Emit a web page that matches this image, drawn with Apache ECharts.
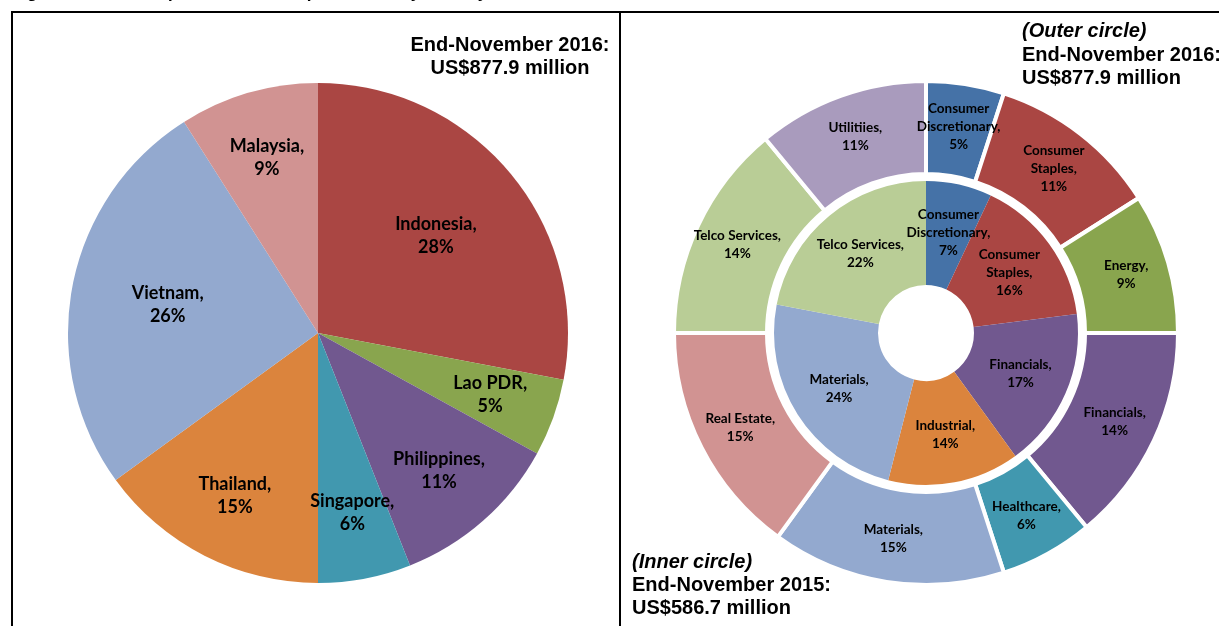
<!DOCTYPE html>
<html>
<head>
<meta charset="utf-8">
<script src="https://cdn.jsdelivr.net/npm/echarts@6/dist/echarts.min.js"></script>
<style>
  html, body { margin: 0; padding: 0; background: #fff; }
  #chart { width: 1219px; height: 626px; }
</style>
</head>
<body>
<div id="chart"></div>
<script>
// country split, end-November 2016 (clockwise from 12 o'clock)
var countries = ['Indonesia', 'Lao PDR', 'Philippines', 'Singapore', 'Thailand', 'Vietnam', 'Malaysia'];
var countryShare = [28, 5, 11, 6, 15, 26, 9];
var countryColors = ['#AA4643', '#89A54E', '#71588F', '#4198AF', '#DB843D', '#93A9CF', '#D19392'];
// big slices get their label nearer the centre
var countryLabelNear = [true, false, false, false, false, true, false];

// sector split, outer ring = end-November 2016
var outerSectors = ['Consumer\nDiscretionary', 'Consumer\nStaples', 'Energy', 'Financials', 'Healthcare',
  'Materials', 'Real Estate', 'Telco Services', 'Utilitiies'];
var outerShare = [5, 11, 9, 14, 6, 15, 15, 14, 11];
var outerColors = ['#4572A7', '#AA4643', '#89A54E', '#71588F', '#4198AF', '#93A9CF', '#D19392', '#B9CD96', '#A99BBD'];

// inner ring = end-November 2015
var innerSectors = ['Consumer\nDiscretionary', 'Consumer\nStaples', 'Financials', 'Industrial', 'Materials', 'Telco Services'];
var innerShare = [7, 16, 17, 14, 24, 22];
var innerColors = ['#4572A7', '#AA4643', '#71588F', '#DB843D', '#93A9CF', '#B9CD96'];

var chart = echarts.init(document.getElementById('chart'), null, { renderer: 'canvas' });

function toData(names, vals, colors) {
  return names.map(function (n, i) {
    return { name: n, value: vals[i], itemStyle: { color: colors[i] } };
  });
}

var pieLabel = {
  show: true, position: 'inside', color: '#000', fontFamily: 'Lato, Arial, sans-serif',
  fontWeight: 'bold', fontSize: 18, lineHeight: 23, formatter: '{b},\n{c}%'
};
var ringLabel = {
  show: true, position: 'inside', color: '#000', fontFamily: 'Lato, Arial, sans-serif',
  fontWeight: 'bold', fontSize: 13.5, lineHeight: 18, formatter: '{b},\n{c}%'
};

// label-only overlays for the country pie
function labelOverlay(near) {
  return {
    type: 'pie', center: [318, 333], radius: near ? [50, 250] : [110, 250],
    startAngle: 90, silent: true, z: 5, avoidLabelOverlap: false,
    itemStyle: { color: 'rgba(0,0,0,0)' },
    labelLine: { show: false },
    labelLayout: { hideOverlap: false },
    data: countries.map(function (n, i) {
      return { name: n, value: countryShare[i], label: { show: countryLabelNear[i] === near } };
    }),
    label: pieLabel
  };
}

var boldText = { fontFamily: 'Arial, Liberation Sans, sans-serif', fontWeight: 'bold', fontSize: 20, fill: '#000' };

chart.setOption({
  animation: false,
  series: [
    {
      type: 'pie', center: [318, 333], radius: 250, startAngle: 90,
      label: { show: false }, labelLine: { show: false },
      data: toData(countries, countryShare, countryColors)
    },
    labelOverlay(true),
    labelOverlay(false),
    {
      type: 'pie', center: [926, 333], radius: [48, 152], startAngle: 90,
      avoidLabelOverlap: false, labelLayout: { hideOverlap: false },
      label: ringLabel, labelLine: { show: false },
      data: toData(innerSectors, innerShare, innerColors)
    },
    {
      type: 'pie', center: [926, 333], radius: [159, 252], startAngle: 90,
      avoidLabelOverlap: false, labelLayout: { hideOverlap: false },
      itemStyle: { borderColor: '#fff', borderWidth: 4 },
      label: ringLabel, labelLine: { show: false },
      data: toData(outerSectors, outerShare, outerColors)
    }
  ],
  graphic: [
    { type: 'text', left: 12, top: -15, style: Object.assign({}, boldText, { fontSize: 17,
      text: 'Figure 3: ASEAN equities: market capitalization by country of issuers and sector' }) },
    { type: 'line', shape: { x1: 11, y1: 12, x2: 1219, y2: 12 }, style: { stroke: '#000', lineWidth: 2 } },
    { type: 'line', shape: { x1: 12, y1: 12, x2: 12, y2: 626 }, style: { stroke: '#000', lineWidth: 2 } },
    { type: 'line', shape: { x1: 620, y1: 12, x2: 620, y2: 626 }, style: { stroke: '#000', lineWidth: 2 } },
    { type: 'text', x: 510, y: 57, style: Object.assign({}, boldText, {
      text: 'End-November 2016:\nUS$877.9 million', align: 'center', verticalAlign: 'middle', lineHeight: 23 }) },
    { type: 'text', x: 1022, y: 21, style: Object.assign({}, boldText, {
      text: '(Outer circle)', fontStyle: 'italic', verticalAlign: 'top' }) },
    { type: 'text', x: 1022, y: 44, style: Object.assign({}, boldText, {
      text: 'End-November 2016:\nUS$877.9 million', verticalAlign: 'top', lineHeight: 23 }) },
    { type: 'text', x: 632, y: 552, style: Object.assign({}, boldText, {
      text: '(Inner circle)', fontStyle: 'italic', verticalAlign: 'top' }) },
    { type: 'text', x: 632, y: 574, style: Object.assign({}, boldText, {
      text: 'End-November 2015:\nUS$586.7 million', verticalAlign: 'top', lineHeight: 23 }) }
  ]
});
</script>
</body>
</html>
